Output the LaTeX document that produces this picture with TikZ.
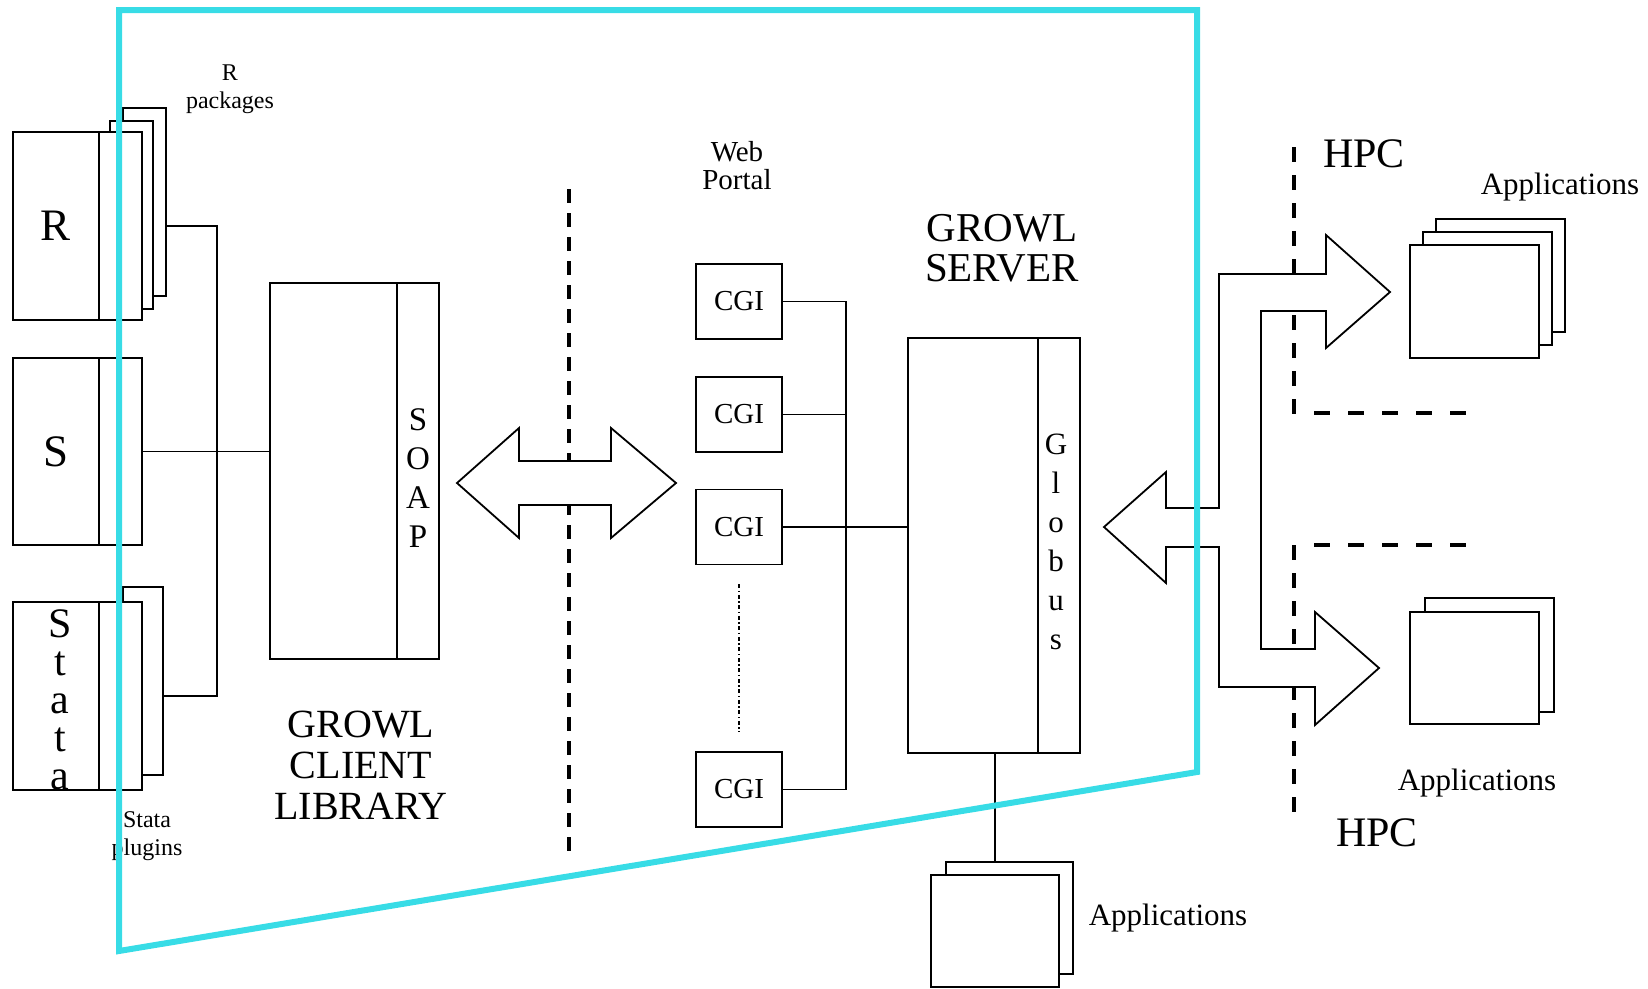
\documentclass[tikz,border=0pt]{standalone}
\usepackage{fontspec}
\setmainfont{Liberation Serif}
\usetikzlibrary{positioning}
\definecolor{framec}{HTML}{38DCE6}

\begin{document}
\begin{tikzpicture}[x=1pt, y=-1pt, line width=1.8pt,
  sheet/.style 2 args={draw, fill=white, inner sep=0pt, outer sep=0pt,
                       anchor=north west, minimum width=#1, minimum height=#2},
  cgi/.style={draw, fill=white, inner sep=0pt, minimum width=86pt,
              minimum height=75pt, font=\fontsize{29}{30}\selectfont},
  lbl/.style={align=center, inner sep=0pt},
  tiny/.style={lbl, font=\fontsize{24}{28}\selectfont},
  mid/.style={lbl, font=\fontsize{31}{31}\selectfont},
  big/.style={lbl, font=\fontsize{40}{41}\selectfont},
  fatarrow/.style={draw, fill=white, line join=miter},
  divide/.style={line width=3.5pt, dash pattern=on 14pt off 10pt},
  hpcv/.style={line width=3.5pt, dash pattern=on 15pt off 13pt},
  hpch/.style={line width=3.5pt, dash pattern=on 16pt off 18pt},
  dotline/.style={line width=1.8pt, dash pattern=on 4pt off 2.5pt on 1.5pt off 2.5pt},
  frame/.style={draw=framec, line width=6pt, line join=miter}]
  \useasboundingbox (0,0) rectangle (1648,988);

  % statistics packages on the left
  \node[sheet={43pt}{188pt}] (rpkgc) at (123,108) {};
  \node[sheet={43pt}{188pt}] (rpkgb) at (110,121) {};
  \node[sheet={86pt}{188pt}, font=\fontsize{45}{45}\selectfont] (rmain) at (13,132) {R};
  \node[sheet={43pt}{188pt}] (rext) at (rmain.north east) {};
  \node[tiny] (rpkglbl) at (230,89) {R\\packages};

  \node[sheet={86pt}{187pt}, font=\fontsize{45}{45}\selectfont] (smain) at (13,358) {S};
  \node[sheet={43pt}{187pt}] (sext) at (smain.north east) {};

  \node[sheet={40pt}{188pt}] (stpkg) at (123,587) {};
  \node[sheet={86pt}{188pt}] (stmain) at (13,602) {};
  \node[sheet={43pt}{188pt}] (stext) at (stmain.north east) {};
  \node[lbl, font=\fontsize{42}{38}\selectfont] (sttxt) at ([xshift=4pt, yshift=-4pt]stmain.center)
        {S\\t\\a\\t\\a};
  \node[tiny] (stpkglbl) at (147,836) {Stata\\plugins};

  % client library
  \node[sheet={127pt}{376pt}] (soapmain) at (270,283) {};
  \node[sheet={42pt}{376pt}] (soapext) at (soapmain.north east) {};
  \node[lbl, font=\fontsize{33}{39}\selectfont] (soaptxt) at ([yshift=-7pt]soapext.center)
        {S\\O\\A\\P};
  \node[big] (clientlbl) at (361,765) {GROWL\\CLIENT\\LIBRARY};

  \coordinate (lbus) at (217,0);
  \draw (rpkgc.east |- rmain.center) -| (lbus |- stmain.center) -- (stpkg.east |- stmain.center);
  \draw (sext.east) -- (sext.east -| soapmain.west);

  % network boundary
  \coordinate (divtop) at (569,189);
  \coordinate (divbot) at (569,851);
  \draw[divide] (divtop) -- (divbot);
  \draw[fatarrow] (457,483) -- (519,428) -- (519,461) -- (611,461) -- (611,428) -- (676,483)
        -- (611,538) -- (611,505) -- (519,505) -- (519,538) -- cycle;

  % web portal
  \node[tiny, font=\fontsize{29}{28}\selectfont] (weblbl) at (737,166) {Web\\Portal};
  \node[cgi] (cgia) at (739,301.5) {CGI};
  \node[cgi] (cgib) at (739,414.5) {CGI};
  \node[cgi] (cgic) at (739,527) {CGI};
  \node[cgi] (cgid) at (739,789.5) {CGI};
  \draw[dotline] ([yshift=-19pt]cgic.south) -- ([yshift=19pt]cgid.north);

  % server
  \node[sheet={130pt}{415pt}] (srvmain) at (908,338) {};
  \node[sheet={42pt}{415pt}] (srvext) at (srvmain.north east) {};
  \node[lbl, font=\fontsize{31}{39}\selectfont] (globus) at ([xshift=-3pt, yshift=4pt]srvext.center)
        {G\\l\\o\\b\\u\\s};
  \node[big, font=\fontsize{41}{40}\selectfont] (srvlbl) at (1002,248) {GROWL\\SERVER};

  \coordinate (cbus) at (846,0);
  \draw (cgia.east) -- (cgia.east -| cbus) -- (cgid.east -| cbus) -- (cgid.east);
  \draw (cgib.east) -- (cgib.east -| cbus);
  \draw (cgic.east) -- (cgic.east -| srvmain.west);

  % HPC boundaries
  \draw[hpcv] (1294,147) -- (1294,415);
  \draw[hpch] (1314,413) -- (1466,413);
  \draw[hpch] (1314,545) -- (1466,545);
  \draw[hpcv] (1294,545) -- (1294,817);
  \node[lbl, font=\fontsize{42}{42}\selectfont] (hpcup) at (1364,154) {HPC};
  \node[lbl, font=\fontsize{42}{42}\selectfont] (hpclo) at (1377,833) {HPC};

  % branching arrow to the HPC sites
  \draw[fatarrow] (1104,527) -- (1166,472) -- (1166,508) -- (1219,508) -- (1219,274)
        -- (1326,274) -- (1326,235) -- (1390,292) -- (1326,348) -- (1326,311)
        -- (1261,311) -- (1261,649) -- (1315,649) -- (1315,612) -- (1379,668)
        -- (1315,725) -- (1315,687) -- (1219,687) -- (1219,547) -- (1166,547)
        -- (1166,583) -- cycle;

  % applications
  \node[sheet={129pt}{113pt}] (apuc) at (1436,219) {};
  \node[sheet={129pt}{113pt}] (apub) at (1423,232) {};
  \node[sheet={129pt}{113pt}] (apua) at (1410,245) {};
  \node[mid] (apulbl) at (1560,187) {Applications};

  \node[sheet={129pt}{114pt}] (aplb) at (1425,598) {};
  \node[sheet={129pt}{112pt}] (apla) at (1410,612) {};
  \node[mid] (apllbl) at (1477,783) {Applications};

  \node[sheet={127pt}{112pt}] (apbb) at (946,862) {};
  \node[sheet={128pt}{112pt}] (apba) at (931,875) {};
  \node[mid] (apblbl) at (1168,918) {Applications};
  \draw ([xshift=22pt]srvmain.south) -- ([xshift=22pt]srvmain.south |- apbb.north);

  % portal frame
  \draw[frame] (119,10) -- (1197,10) -- (1197,772) -- (119,951) -- cycle;
\end{tikzpicture}
\end{document}
